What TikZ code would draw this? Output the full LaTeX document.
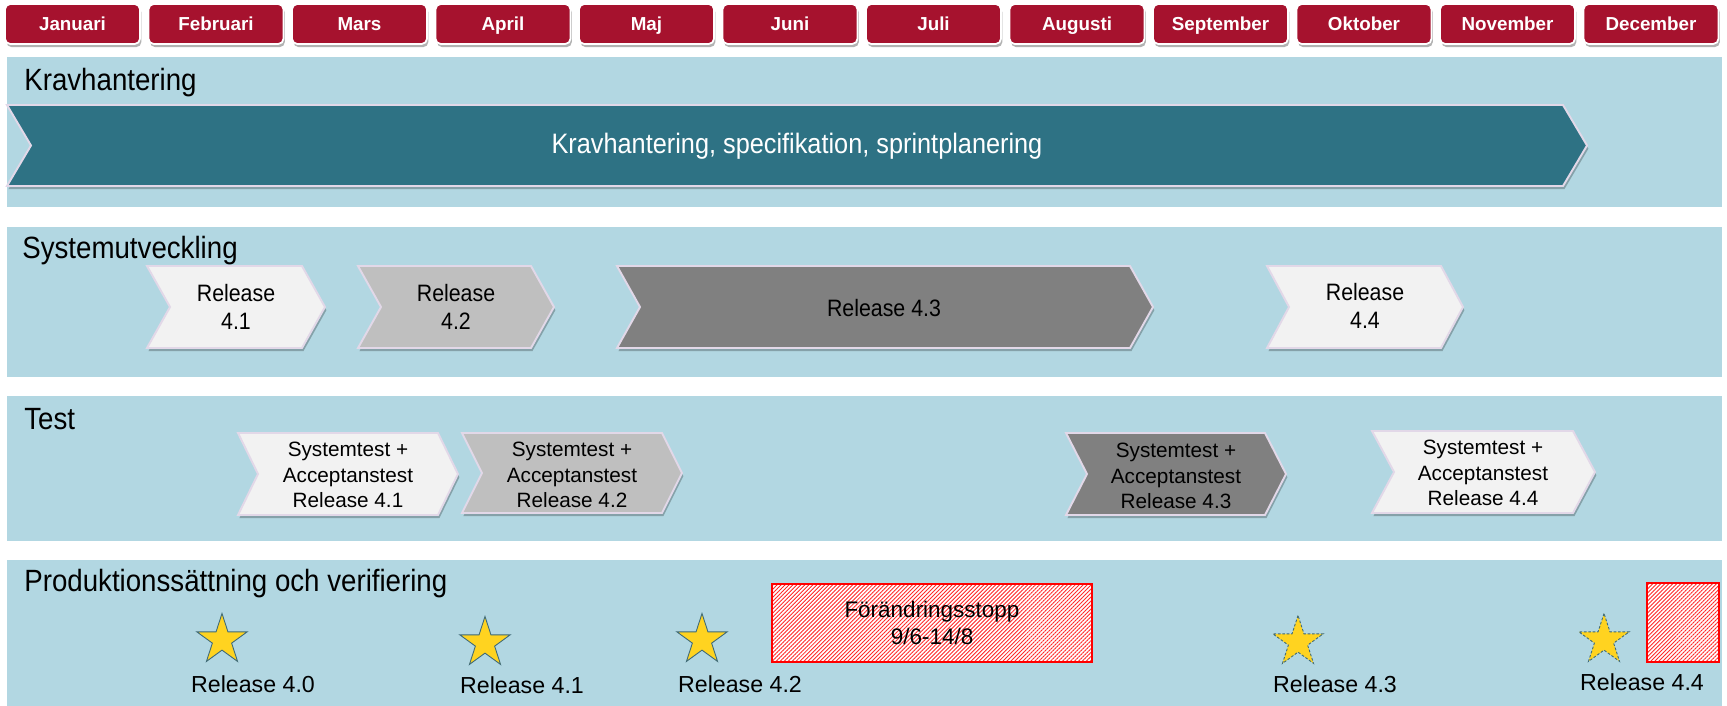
\documentclass[tikz,border=0pt]{standalone}
\usepackage{fontspec}
\setmainfont{Liberation Sans}
\newfontfamily\narrowfont{Liberation Sans}[FakeStretch=0.9]
\usetikzlibrary{shadows,shapes.geometric,patterns.meta}

\definecolor{monthred}{RGB}{166,18,46}
\definecolor{panelblue}{RGB}{178,215,226}
\definecolor{barteal}{RGB}{46,114,132}
\definecolor{chevedge}{RGB}{226,216,232}
\definecolor{lightrel}{RGB}{242,242,242}
\definecolor{midrel}{RGB}{191,191,191}
\definecolor{darkrel}{RGB}{128,128,128}
\definecolor{stargold}{RGB}{255,211,32}
\definecolor{staredge}{RGB}{62,106,120}

% style, left x, tip x, top y, bottom y, point depth
\newcommand{\chevron}[6]{%
  \draw[#1] (#2,#4) -- (#3-#6,#4) -- (#3,{(#4+#5)/2}) -- (#3-#6,#5)
    -- (#2,#5) -- (#2+#6,{(#4+#5)/2}) -- cycle;}

\begin{document}
\begin{tikzpicture}[x=0.02cm,y=-0.02cm,
  monthbox/.style={fill=monthred,draw=white,line width=1pt,rounded corners=3pt,
    minimum width=2.7cm,minimum height=0.8cm,text=white,
    text height=0.9em,text depth=0.2em,
    font=\fontsize{10.7}{12}\selectfont\bfseries,
    drop shadow={shadow xshift=0.8pt,shadow yshift=-1.8pt,fill=black,opacity=0.3}},
  panel/.style={fill=panelblue},
  rowtitle/.style={anchor=base west,inner sep=0pt,font=\narrowfont\fontsize{17.5}{20}\selectfont},
  chev/.style={draw=chevedge,line width=1.1pt,line join=miter,
    drop shadow={shadow xshift=0.8pt,shadow yshift=-1.8pt,fill=black,opacity=0.25}},
  bartext/.style={text=white,font=\narrowfont\fontsize{16}{19}\selectfont},
  devtext/.style={align=center,font=\narrowfont\fontsize{13.5}{16}\selectfont},
  testtext/.style={align=center,font=\fontsize{11.8}{14.5}\selectfont},
  release/.style={star,star points=5,star point ratio=2.618,minimum size=1.06cm,
    inner sep=0pt,fill=stargold,draw=staredge,line width=0.5pt},
  planned/.style={release,dash pattern=on 1.5pt off 1pt},
  rellabel/.style={anchor=base,font=\fontsize{13.2}{15}\selectfont},
  stopbox/.style={draw=red,line width=1.2pt,preaction={fill=white},
    pattern={Lines[angle=45,distance=1.6pt,line width=0.5pt]},pattern color=red!85,
    align=center,font=\fontsize{12.8}{15.5}\selectfont}]
  \useasboundingbox (0,0) rectangle (1727,706);
  \fill[white] (0,0) rectangle (1727,706);

  % months
  \foreach \name [count=\i from 0] in {Januari,Februari,Mars,April,Maj,Juni,Juli,Augusti,September,Oktober,November,December}
    \node[monthbox] (month\i) at (72.5+143.5*\i,24) {\name};

  % rows
  \fill[panel] (7,57) rectangle (1722,207);
  \fill[panel] (7,227) rectangle (1722,377);
  \fill[panel] (7,396) rectangle (1722,541);
  \fill[panel] (7,560) rectangle (1722,706);

  \node[rowtitle] (krav) at (24,91) {Kravhantering};
  \node[rowtitle] (sysutv) at (22,258) {Systemutveckling};
  \node[rowtitle] (test) at (24,429) {Test};
  \node[rowtitle] (prod) at (24,591) {Produktionssättning och verifiering};

  % kravhantering
  \chevron{chev,fill=barteal}{7}{1587}{105}{186}{24}
  \node[bartext] (kravbar) at (797,146) {Kravhantering, specifikation, sprintplanering};

  % systemutveckling
  \chevron{chev,fill=lightrel}{147}{325}{266}{348}{23}
  \chevron{chev,fill=midrel}{358}{554}{266}{348}{23}
  \chevron{chev,fill=darkrel}{617}{1153}{266}{348}{23}
  \chevron{chev,fill=lightrel}{1267}{1463}{266}{348}{22}
  \node[devtext] (dev41) at (236,307) {Release\\4.1};
  \node[devtext] (dev42) at (456,307) {Release\\4.2};
  \node[devtext] (dev43) at (884,308) {Release 4.3};
  \node[devtext] (dev44) at (1365,306) {Release\\4.4};

  % test
  \chevron{chev,fill=lightrel}{238}{458}{433}{515}{20}
  \chevron{chev,fill=midrel}{462}{682}{433}{513}{20}
  \chevron{chev,fill=darkrel}{1066}{1286}{433}{515}{21}
  \chevron{chev,fill=lightrel}{1372}{1595}{431}{513}{22}
  \node[testtext] (test41) at (348,475) {Systemtest +\\Acceptanstest\\Release 4.1};
  \node[testtext] (test42) at (572,475) {Systemtest +\\Acceptanstest\\Release 4.2};
  \node[testtext] (test43) at (1176,476) {Systemtest +\\Acceptanstest\\Release 4.3};
  \node[testtext] (test44) at (1483,473) {Systemtest +\\Acceptanstest\\Release 4.4};

  % produktionssättning
  \node[release] (star40) at (222,640) {};
  \node[release] (star41) at (485,643) {};
  \node[release] (star42) at (702,640) {};
  \node[planned] (star43) at (1298,642) {};
  \node[planned] (star44) at (1604,640) {};
  \node[rellabel] (rel40) at (253,692) {Release 4.0};
  \node[rellabel] (rel41) at (522,693) {Release 4.1};
  \node[rellabel] (rel42) at (740,692) {Release 4.2};
  \node[rellabel] (rel43) at (1335,692) {Release 4.3};
  \node[rellabel] (rel44) at (1642,690) {Release 4.4};

  \node[stopbox,minimum width=6.4cm,minimum height=1.56cm] (stopp) at (932,623) {Förändringsstopp\\9/6-14/8};
  \node[stopbox,minimum width=1.44cm,minimum height=1.58cm] (stopp2) at (1683,622.5) {};
\end{tikzpicture}
\end{document}
